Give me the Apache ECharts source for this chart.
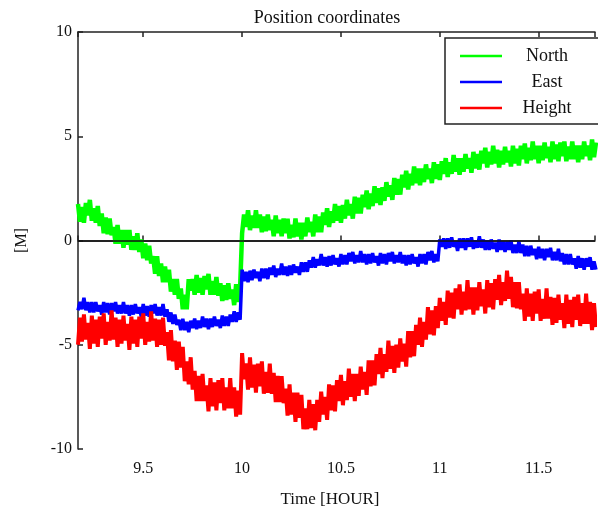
<!DOCTYPE html>
<html>
<head>
<meta charset="utf-8">
<script src="https://cdn.jsdelivr.net/npm/echarts@6/dist/echarts.min.js"></script>
<style>
html,body{margin:0;padding:0;background:#fff;}
#chart{width:598px;height:511px;}
</style>
</head>
<body>
<div id="chart"></div>
<script>
// samples every 0.01 h from 9.17 h
var t0 = 9.17, step = 0.01;
var seriesNames = ['North', 'East', 'Height'];
var yTicks = [-10, -5, 0, 5, 10];

var north = [1.75,0.9,1.6,0.85,1.8,1.2,1.95,0.95,1.55,0.85,1.65,0.7,1.3,0.35,1.1,0.3,1.05,0.25,0.65,-0.15,
0.75,-0.15,0.5,-0.35,0.5,-0.2,0.5,-0.45,0.2,-0.45,0.35,-0.55,0.05,-0.85,-0.15,-0.95,-0.25,-1.1,-0.75,-1.6,
-0.75,-1.7,-1.1,-2.0,-1.25,-2.0,-1.4,-2.45,-1.85,-2.6,-1.85,-2.8,-2.3,-3.3,-2.6,-3.3,-1.85,-2.4,-1.85,-2.6,
-1.65,-2.5,-1.8,-2.6,-1.7,-2.35,-1.6,-2.6,-1.95,-2.6,-1.75,-2.65,-2.05,-2.9,-2.15,-2.85,-2.05,-2.8,-2.35,-3.1,
-2.1,-2.95,-2.25,0.35,1.25,0.65,1.45,0.5,1.2,0.6,1.45,0.6,1.25,0.4,1.15,0.45,1.25,0.5,1.0,0.2,
1.2,0.35,1.0,0.2,1.05,0.35,1.05,0.1,0.75,0.15,1.05,0.2,0.85,0.05,0.85,0.2,1.1,0.4,0.9,0.2,
1.25,0.4,1.15,0.4,1.35,0.75,1.55,0.65,1.4,0.85,1.75,0.95,1.65,0.85,1.7,1.05,1.95,1.2,1.75,1.05,
2.1,1.3,2.05,1.3,2.2,1.6,2.4,1.5,2.25,1.65,2.6,1.8,2.5,1.7,2.55,1.9,2.8,2.1,2.65,1.95,
3.0,2.2,2.95,2.2,3.15,2.55,3.35,2.45,3.2,2.65,3.55,2.75,3.45,2.65,3.45,2.8,3.65,2.95,3.45,2.75,
3.75,2.95,3.65,2.9,3.8,3.2,3.95,3.05,3.75,3.2,4.1,3.3,3.95,3.15,3.95,3.3,4.15,3.45,3.95,3.25,
4.25,3.45,4.15,3.4,4.3,3.7,4.45,3.5,4.25,3.65,4.55,3.7,4.35,3.5,4.3,3.65,4.5,3.75,4.3,3.55,
4.55,3.7,4.4,3.6,4.55,3.9,4.65,3.7,4.45,3.85,4.75,3.9,4.55,3.7,4.55,3.85,4.7,3.95,4.5,3.75,
4.75,3.9,4.6,3.8,4.7,4.05,4.75,3.8,4.5,3.9,4.75,3.9,4.55,3.75,4.55,3.9,4.75,4.05,4.55,3.85,
4.85,4.0,4.7];

var east = [-3.35,-2.95,-3.3,-2.75,-3.35,-2.95,-3.45,-2.95,-3.45,-2.95,-3.4,-3.1,-3.55,-2.95,-3.45,-3.0,-3.55,-3.0,-3.4,-2.95,
-3.5,-3.1,-3.5,-2.95,-3.5,-3.1,-3.6,-3.1,-3.55,-3.05,-3.5,-3.2,-3.65,-3.05,-3.6,-3.15,-3.65,-3.1,-3.5,-3.05,
-3.6,-3.2,-3.6,-3.05,-3.65,-3.3,-3.9,-3.45,-4.0,-3.55,-4.05,-3.8,-4.3,-3.75,-4.3,-3.9,-4.4,-3.85,-4.2,-3.75,
-4.25,-3.85,-4.2,-3.65,-4.15,-3.75,-4.25,-3.75,-4.15,-3.65,-4.1,-3.8,-4.2,-3.6,-4.1,-3.65,-4.1,-3.55,-3.9,-3.4,
-3.9,-3.45,-3.8,-1.4,-1.95,-1.5,-2.0,-1.45,-1.9,-1.4,-1.8,-1.5,-1.95,-1.35,-1.8,-1.35,-1.85,-1.3,-1.65,-1.2,
-1.75,-1.35,-1.65,-1.1,-1.65,-1.25,-1.7,-1.2,-1.65,-1.15,-1.55,-1.25,-1.65,-1.05,-1.5,-1.05,-1.5,-0.95,-1.3,-0.8,
-1.3,-0.9,-1.2,-0.65,-1.2,-0.8,-1.25,-0.75,-1.2,-0.7,-1.15,-0.85,-1.25,-0.65,-1.15,-0.7,-1.15,-0.6,-1.0,-0.55,
-1.1,-0.7,-1.05,-0.5,-1.05,-0.65,-1.15,-0.65,-1.1,-0.6,-1.05,-0.75,-1.2,-0.6,-1.1,-0.65,-1.15,-0.6,-1.0,-0.55,
-1.1,-0.7,-1.05,-0.55,-1.1,-0.7,-1.2,-0.7,-1.15,-0.65,-1.1,-0.8,-1.25,-0.65,-1.1,-0.65,-1.15,-0.55,-0.95,-0.5,
-1.05,-0.65,-1.0,0.05,-0.3,0.1,-0.4,0.1,-0.35,0.15,-0.3,-0.05,-0.5,0.1,-0.35,0.1,-0.45,0.1,-0.3,0.15,
-0.4,0.0,-0.35,0.2,-0.35,0.05,-0.45,0.0,-0.45,0.05,-0.4,-0.1,-0.55,0.05,-0.45,-0.05,-0.55,-0.05,-0.45,0.0,
-0.6,-0.2,-0.6,-0.05,-0.6,-0.2,-0.75,-0.25,-0.75,-0.25,-0.7,-0.4,-0.9,-0.3,-0.85,-0.4,-0.95,-0.4,-0.8,-0.35,
-0.95,-0.55,-0.95,-0.4,-1.0,-0.6,-1.15,-0.65,-1.15,-0.65,-1.15,-0.85,-1.35,-0.75,-1.3,-0.85,-1.4,-0.85,-1.25,-0.8,
-1.4,-1.0,-1.4];

var height = [-5.0,-3.7,-4.85,-3.55,-4.75,-3.95,-5.2,-3.6,-4.95,-3.8,-5.1,-3.65,-4.7,-3.5,-5.0,-3.9,-4.8,-3.35,-4.75,-3.7,
-5.1,-3.8,-4.95,-3.6,-4.8,-4.0,-5.25,-3.65,-4.95,-3.8,-5.1,-3.65,-4.7,-3.5,-5.0,-3.9,-4.85,-3.4,-4.8,-3.75,
-5.1,-3.8,-5.0,-3.7,-5.05,-4.4,-5.75,-4.3,-5.8,-4.8,-6.2,-4.85,-6.1,-5.1,-6.75,-5.8,-6.9,-5.6,-7.15,-6.25,
-7.7,-6.5,-7.7,-6.4,-7.7,-6.95,-8.2,-6.6,-7.95,-6.8,-8.15,-6.7,-7.8,-6.6,-8.15,-7.05,-8.05,-6.6,-8.05,-7.05,
-8.45,-7.2,-8.35,-5.4,-6.65,-5.9,-7.15,-5.6,-7.05,-5.95,-7.3,-5.9,-7.0,-5.8,-7.35,-6.3,-7.3,-5.9,-7.35,-6.35,
-7.75,-6.5,-7.75,-6.5,-7.8,-7.1,-8.4,-6.9,-8.35,-7.3,-8.7,-7.3,-8.5,-7.4,-9.05,-8.05,-9.05,-7.65,-9.0,-7.85,
-9.1,-7.65,-8.7,-7.25,-8.35,-7.5,-8.6,-6.9,-8.15,-6.95,-8.2,-6.7,-7.7,-6.45,-7.9,-6.75,-7.65,-6.15,-7.5,-6.4,
-7.7,-6.4,-7.45,-6.05,-7.15,-6.3,-7.4,-5.75,-7.0,-5.75,-6.95,-5.45,-6.4,-5.15,-6.6,-5.45,-6.3,-4.8,-6.15,-5.05,
-6.35,-5.0,-6.1,-4.7,-5.8,-4.95,-6.05,-4.35,-5.6,-4.35,-5.55,-4.05,-5.0,-3.7,-5.1,-3.9,-4.75,-3.2,-4.5,-3.35,
-4.55,-3.15,-4.2,-2.75,-3.85,-2.95,-4.05,-2.4,-3.7,-2.5,-3.75,-2.3,-3.3,-2.1,-3.55,-2.45,-3.35,-1.9,-3.3,-2.25,
-3.55,-2.25,-3.35,-2.0,-3.15,-2.35,-3.5,-1.9,-3.2,-2.05,-3.3,-1.85,-2.85,-1.65,-3.1,-2.0,-2.9,-1.45,-2.8,-1.75,
-3.2,-2.0,-3.25,-2.0,-3.3,-2.55,-3.85,-2.3,-3.65,-2.55,-3.85,-2.45,-3.5,-2.35,-3.85,-2.8,-3.75,-2.3,-3.75,-2.7,
-4.05,-2.75,-3.95,-2.6,-3.8,-3.0,-4.2,-2.6,-4.0,-2.85,-4.15,-2.7,-3.8,-2.6,-4.1,-3.0,-4.0,-2.55,-4.0,-2.95,
-4.3,-3.0,-4.15];

function pairs(vals){
	var out=[];
	for (var i=0;i<vals.length;i++){
		out.push([+(t0+i*step).toFixed(2), vals[i]]);
	}
	return out;
}

var serif = '"Liberation Serif", "DejaVu Serif", serif';
var chart = echarts.init(document.getElementById('chart'));

var lineIcon = 'path://M0,0H42V2.5H0Z';

var option = {
	animation: false,
	backgroundColor: '#fff',
	grid: {left: 78, top: 32, right: 0, bottom: 62, containLabel: false},
	graphic: [
		{type: 'text', style: {text: 'Position coordinates', x: 327, y: 18, align: 'center', verticalAlign: 'middle', font: '18px ' + serif, fill: '#111'}},
		{type: 'text', style: {text: 'Time [HOUR]', x: 330, y: 500, align: 'center', verticalAlign: 'middle', font: '17px ' + serif, fill: '#111'}}
	],
	legend: {
		data: [
			{name: 'North', icon: lineIcon},
			{name: 'East', icon: lineIcon},
			{name: 'Height', icon: lineIcon}
		],
		orient: 'vertical',
		left: 445,
		top: 38,
		itemWidth: 42,
		itemHeight: 20,
		itemGap: 8,
		padding: [9, 40, 7, 15],
		borderColor: '#222',
		borderWidth: 1.5,
		borderRadius: 0,
		backgroundColor: '#fff',
		formatter: function(name){ return '{a|' + name + '}'; },
		textStyle: {
			rich: {a: {width: 80, align: 'center', fontFamily: serif, fontSize: 18, color: '#111', lineHeight: 20}}
		}
	},
	xAxis: [{
		type: 'value',
		min: 9.17,
		max: 11.785,
		splitNumber: 5,
		axisLine: {lineStyle: {color: '#222', width: 1.5}},
		axisTick: {inside: true, length: 5, lineStyle: {color: '#222', width: 1.5}},
		axisLabel: {
			color: '#111', fontFamily: serif, fontSize: 16, margin: 12,
			formatter: function(v){ return Math.abs(v*2 - Math.round(v*2)) < 1e-6 ? String(v) : ''; }
		},
		splitLine: {show: false}
	}, {
		type: 'value',
		position: 'top',
		min: 9.17,
		max: 11.785,
		splitNumber: 5,
		axisLine: {lineStyle: {color: '#222', width: 1.5}},
		axisTick: {inside: true, length: 5, lineStyle: {color: '#222', width: 1.5}},
		axisLabel: {show: false},
		splitLine: {show: false}
	}],
	yAxis: {
		type: 'value',
		min: yTicks[0],
		max: yTicks[yTicks.length-1],
		interval: 5,
		name: '[M]',
		nameLocation: 'middle',
		nameGap: 48,
		nameTextStyle: {fontFamily: serif, fontSize: 16, color: '#111'},
		axisLine: {lineStyle: {color: '#222', width: 1.5}},
		axisTick: {inside: true, length: 5, lineStyle: {color: '#222', width: 1.5}},
		axisLabel: {color: '#111', fontFamily: serif, fontSize: 16, margin: 6},
		splitLine: {show: false}
	},
	series: [
		{name: 'North', type: 'line', data: pairs(north), symbol: 'none', showSymbol: false, color: '#00ff00', lineStyle: {width: 4.5, color: '#00ff00'}, z: 2},
		{name: 'East', type: 'line', data: pairs(east), symbol: 'none', showSymbol: false, color: '#0000ff', lineStyle: {width: 3.5, color: '#0000ff'}, z: 3},
		{name: 'Height', type: 'line', data: pairs(height), symbol: 'none', showSymbol: false, color: '#ff0000', lineStyle: {width: 4, color: '#ff0000'}, z: 4},
		{name: 'zero', type: 'line', data: [], z: 6,
			markLine: {silent: true, symbol: 'none', label: {show: false},
				lineStyle: {color: '#111', width: 1.5, type: 'solid'}, data: [{yAxis: 0}]}}
	]
};
chart.setOption(option);
</script>
</body>
</html>
